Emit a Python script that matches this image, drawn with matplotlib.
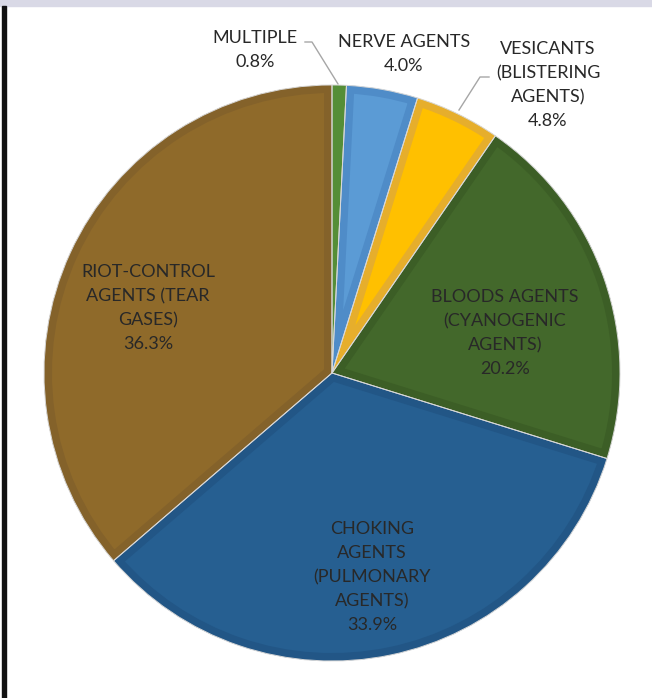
import matplotlib
matplotlib.use("Agg")
import matplotlib.pyplot as plt
from matplotlib.patches import Rectangle, Wedge

plt.rcParams['font.family'] = ['Lato', 'DejaVu Sans']

categories = ["MULTIPLE", "NERVE AGENTS", "VESICANTS\n(BLISTERING\nAGENTS)",
              "BLOODS AGENTS\n(CYANOGENIC\nAGENTS)", "CHOKING\nAGENTS\n(PULMONARY\nAGENTS)",
              "RIOT-CONTROL\nAGENTS (TEAR\nGASES)"]
shares = [0.8, 4.0, 4.8, 20.2, 33.9, 36.3]
fill_colors = ["#5f9c3f", "#5b9bd5", "#ffc000", "#43682b", "#265f91", "#8f6a2a"]
rim_colors = ["#558e37", "#4f8cc8", "#e6ae2c", "#3c5e26", "#225686", "#84622a"]

W, H = 652, 698
fig = plt.figure(figsize=(W / 100, H / 100), dpi=100)
ax = fig.add_axes([0, 0, 1, 1])

cx, cy, r = 332, H - 373, 288
wedges, _ = ax.pie(shares, colors=fill_colors, startangle=90, counterclock=False,
                   center=(cx, cy), radius=r, frame=True,
                   wedgeprops=dict(linewidth=0))
ax.set_xlim(0, W)
ax.set_ylim(0, H)
ax.set_aspect("equal")
ax.axis("off")

# page frame: light band on top, dark rule on the left
ax.add_patch(Rectangle((0, H - 6), W, 6, color="#d9d9e6", zorder=0))
ax.add_patch(Rectangle((2, 0), 3.5, H - 6, color="#111111", zorder=0))

# inner bevel rim: a thick edge clipped to each wedge, then a fine light seam
for w, rc in zip(wedges, rim_colors):
    t1, t2 = w.theta1, w.theta2
    rim = Wedge((cx, cy), r, t1, t2, facecolor="none", edgecolor=rc,
                linewidth=11.5, joinstyle="miter", zorder=2)
    ax.add_patch(rim)
    rim.set_clip_path(w)
    seam = Wedge((cx, cy), r, t1, t2, facecolor="none", edgecolor="#d8d8d8",
                 linewidth=0.7, zorder=3)
    ax.add_patch(seam)

txt = dict(fontsize=13, color="#282828", ha="center", va="center", linespacing=1.62)

def lab(i, x, y):
    ax.text(x, H - y, f"{categories[i]}\n{shares[i]:.1f}%", **txt)

lab(0, 255, 50)
lab(1, 404, 54)
lab(2, 548, 85)
lab(3, 505, 333)
lab(4, 372, 577)
lab(5, 148, 308)

# leader lines for the small slices
lc = dict(color="#a6a6a6", lw=1.0)
ax.plot([338, 312, 305], [H - 84, H - 42, H - 42], **lc)
ax.plot([459, 480, 489], [H - 110, H - 77, H - 77], **lc)

fig.savefig("out.png", dpi=100)
